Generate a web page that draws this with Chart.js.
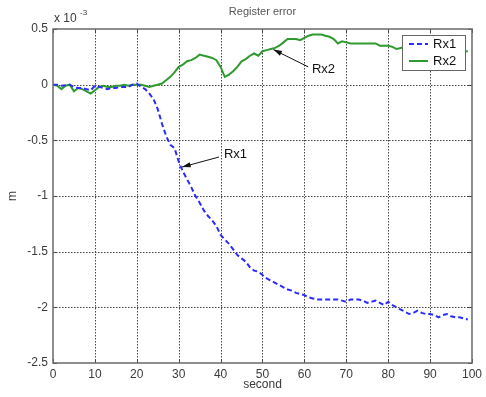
<!DOCTYPE html>
<html>
<head>
<meta charset="utf-8">
<script src="https://cdn.jsdelivr.net/npm/chart.js@4/dist/chart.umd.min.js"></script>
<style>
  html, body { margin: 0; padding: 0; background: #fff; }
  #chart { display: block; }
</style>
</head>
<body>
<canvas id="chart" width="486" height="397"></canvas>
<script>
// time in seconds, values in units of 1e-3 m
const seconds = [
  0, 1, 2, 3, 4, 5, 6, 7, 8, 9, 10, 11, 12, 13, 14, 15, 16, 17, 18, 19,
  20, 21, 22, 23, 24, 25, 26, 27, 28, 29, 30, 31, 32, 33, 34, 35, 36, 37, 38, 39,
  40, 41, 42, 43, 44, 45, 46, 47, 48, 49, 50, 51, 52, 53, 54, 55, 56, 57, 58, 59,
  60, 61, 62, 63, 64, 65, 66, 67, 68, 69, 70, 71, 72, 73, 74, 75, 76, 77, 78, 79,
  80, 81, 82, 83, 84, 85, 86, 87, 88, 89, 90, 91, 92, 93, 94, 95, 96, 97, 98, 99
];
const rx1 = [
  0, 0, -0.01, -0.005, 0, -0.02, -0.03, -0.03, -0.04, -0.05,
  -0.01, -0.02, -0.03, -0.04, -0.03, -0.03, -0.02, -0.02, -0.02, 0,
  0.01, -0.02, -0.04, -0.08, -0.13, -0.22, -0.35, -0.46, -0.54, -0.57,
  -0.69, -0.78, -0.85, -0.92, -1.0, -1.06, -1.13, -1.18, -1.22, -1.27,
  -1.35, -1.39, -1.43, -1.48, -1.53, -1.56, -1.59, -1.64, -1.67, -1.68,
  -1.71, -1.74, -1.76, -1.78, -1.80, -1.82, -1.84, -1.85, -1.87, -1.88,
  -1.89, -1.91, -1.92, -1.93, -1.93, -1.93, -1.93, -1.93, -1.93, -1.94,
  -1.95, -1.93, -1.93, -1.93, -1.94, -1.96, -1.95, -1.94, -1.96, -1.98,
  -1.95, -1.98, -2.0, -2.02, -2.04, -2.06, -2.05, -2.03, -2.05, -2.06,
  -2.06, -2.07, -2.09, -2.07, -2.06, -2.08, -2.09, -2.09, -2.10, -2.11
];
const rx2 = [
  0, -0.01, -0.04, -0.01, 0, -0.06, -0.03, -0.04, -0.06, -0.08,
  -0.05, -0.02, -0.01, -0.02, -0.02, -0.01, -0.01, 0, -0.01, 0,
  0, 0, -0.01, -0.02, -0.01, 0, 0.01, 0.04, 0.07, 0.11,
  0.16, 0.18, 0.21, 0.22, 0.24, 0.27, 0.26, 0.25, 0.24, 0.22,
  0.16, 0.07, 0.09, 0.12, 0.16, 0.21, 0.23, 0.26, 0.28, 0.26,
  0.30, 0.31, 0.32, 0.33, 0.35, 0.38, 0.41, 0.41, 0.41, 0.40,
  0.42, 0.44, 0.45, 0.45, 0.45, 0.44, 0.43, 0.41, 0.37, 0.39,
  0.38, 0.37, 0.37, 0.37, 0.37, 0.37, 0.37, 0.37, 0.35, 0.35,
  0.35, 0.34, 0.32, 0.33, 0.34, 0.34, 0.33, 0.34, 0.33, 0.33,
  0.32, 0.33, 0.32, 0.31, 0.32, 0.31, 0.30, 0.31, 0.30, 0.30
];
const seriesNames = ['Rx1', 'Rx2'];
const xTicks = [0, 10, 20, 30, 40, 50, 60, 70, 80, 90, 100];
const yTicks = [0.5, 0, -0.5, -1, -1.5, -2, -2.5];

// callouts: [label, tip x, tip y, tail x, tail y, text x, text y]
const callouts = [
  ['Rx1', 30.8, -0.74, 39.6, -0.65, 40.8, -0.63],
  ['Rx2', 52.6, 0.315, 60.9, 0.16, 61.8, 0.135]
];

const BLUE = '#2b2bff';
const GREEN = '#2f9a2f';
const TEXT = '#3a3a3a';
const FONT = '"Liberation Sans", Arial, sans-serif';

const toPoints = (ys) => seconds.map((s, i) => ({ x: s, y: ys[i] }));

const matlabLook = {
  id: 'matlabLook',
  beforeDatasetsDraw(chart) {
    const { ctx, chartArea: a, scales: { x, y } } = chart;
    ctx.save();
    // dotted grid
    ctx.strokeStyle = '#444';
    ctx.lineWidth = 1;
    ctx.setLineDash([1.5, 1.5]);
    ctx.beginPath();
    xTicks.slice(1, -1).forEach(v => {
      const px = Math.round(x.getPixelForValue(v)) + 0.5;
      ctx.moveTo(px, a.top); ctx.lineTo(px, a.bottom);
    });
    yTicks.slice(1, -1).forEach(v => {
      const py = Math.round(y.getPixelForValue(v)) + 0.5;
      ctx.moveTo(a.left, py); ctx.lineTo(a.right, py);
    });
    ctx.stroke();
    ctx.setLineDash([]);
    // solid inward ticks at both ends of every gridline
    ctx.beginPath();
    xTicks.forEach(v => {
      const px = Math.round(x.getPixelForValue(v)) + 0.5;
      ctx.moveTo(px, a.bottom); ctx.lineTo(px, a.bottom - 4);
      ctx.moveTo(px, a.top); ctx.lineTo(px, a.top + 4);
    });
    yTicks.forEach(v => {
      const py = Math.round(y.getPixelForValue(v)) + 0.5;
      ctx.moveTo(a.left, py); ctx.lineTo(a.left + 4, py);
      ctx.moveTo(a.right, py); ctx.lineTo(a.right - 4, py);
    });
    ctx.stroke();
    ctx.restore();
  },
  afterDraw(chart) {
    const { ctx, chartArea: a, scales: { x, y } } = chart;
    ctx.save();

    // axes box
    ctx.strokeStyle = '#6a6a6a';
    ctx.lineWidth = 1.5;
    ctx.strokeRect(a.left, a.top, a.right - a.left, a.bottom - a.top);

    // title, exponent, axis titles
    ctx.fillStyle = '#555';
    ctx.font = '11px ' + FONT;
    ctx.textAlign = 'center';
    ctx.textBaseline = 'middle';
    ctx.fillText('Register error', (a.left + a.right) / 2, 12);

    ctx.fillStyle = TEXT;
    ctx.textAlign = 'left';
    ctx.font = '12px ' + FONT;
    ctx.fillText('x 10', a.left + 1, 19);
    ctx.font = '8px ' + FONT;
    ctx.fillText('-3', a.left + 27, 13);

    ctx.font = '12px ' + FONT;
    ctx.textAlign = 'center';
    ctx.fillText('second', (a.left + a.right) / 2, 385);
    ctx.save();
    ctx.translate(13, (a.top + a.bottom) / 2);
    ctx.rotate(-Math.PI / 2);
    ctx.fillText('m', 0, 0);
    ctx.restore();

    // callouts with arrows
    ctx.strokeStyle = '#111';
    ctx.fillStyle = '#111';
    ctx.lineWidth = 1;
    callouts.forEach(([label, tx, ty, bx, by, lx, ly]) => {
      const x1 = x.getPixelForValue(tx), y1 = y.getPixelForValue(ty);
      const x0 = x.getPixelForValue(bx), y0 = y.getPixelForValue(by);
      const ang = Math.atan2(y1 - y0, x1 - x0);
      ctx.beginPath();
      ctx.moveTo(x0, y0); ctx.lineTo(x1, y1);
      ctx.stroke();
      ctx.beginPath();
      ctx.moveTo(x1, y1);
      ctx.lineTo(x1 - 9 * Math.cos(ang - 0.3), y1 - 9 * Math.sin(ang - 0.3));
      ctx.lineTo(x1 - 9 * Math.cos(ang + 0.3), y1 - 9 * Math.sin(ang + 0.3));
      ctx.closePath();
      ctx.fill();
      ctx.font = '13px ' + FONT;
      ctx.textAlign = 'left';
      ctx.textBaseline = 'middle';
      ctx.fillText(label, x.getPixelForValue(lx), y.getPixelForValue(ly));
    });

    // legend box in the upper right corner
    const lw = 63, lh = 35;
    const lx = a.right - 7 - lw, ly = a.top + 6;
    ctx.fillStyle = '#fff';
    ctx.fillRect(lx, ly, lw, lh);
    ctx.strokeStyle = '#666';
    ctx.lineWidth = 1;
    ctx.strokeRect(lx + 0.5, ly + 0.5, lw, lh);
    chart.data.datasets.forEach((ds, i) => {
      const ry = ly + 9 + i * 17;
      ctx.strokeStyle = ds.borderColor;
      ctx.lineWidth = 2;
      ctx.setLineDash(ds.borderDash || []);
      ctx.beginPath();
      ctx.moveTo(lx + 7, ry); ctx.lineTo(lx + 26, ry);
      ctx.stroke();
      ctx.setLineDash([]);
      ctx.fillStyle = '#111';
      ctx.font = '13px ' + FONT;
      ctx.textAlign = 'left';
      ctx.fillText(ds.label, lx + 31, ry);
    });

    ctx.restore();
  }
};

new Chart(document.getElementById('chart'), {
  type: 'line',
  data: {
    datasets: [
      {
        label: seriesNames[0],
        data: toPoints(rx1),
        borderColor: BLUE,
        borderWidth: 2,
        borderDash: [5, 3],
        pointRadius: 0,
        tension: 0
      },
      {
        label: seriesNames[1],
        data: toPoints(rx2),
        borderColor: GREEN,
        borderWidth: 2,
        pointRadius: 0,
        tension: 0
      }
    ]
  },
  options: {
    responsive: false,
    animation: false,
    layout: { padding: { top: 29, right: 11, left: 0, bottom: 0 } },
    plugins: {
      legend: { display: false },
      title: { display: false },
      tooltip: { enabled: false }
    },
    scales: {
      x: {
        type: 'linear',
        min: 0,
        max: 100,
        afterFit: (s) => { s.height = 34; },
        afterBuildTicks: (s) => { s.ticks = xTicks.map(v => ({ value: v })); },
        ticks: { color: TEXT, font: { family: FONT, size: 12 }, padding: 4, maxRotation: 0 },
        grid: { display: false, drawTicks: false },
        border: { display: false }
      },
      y: {
        min: -2.5,
        max: 0.5,
        afterFit: (s) => { s.width = 53; },
        afterBuildTicks: (s) => { s.ticks = yTicks.map(v => ({ value: v })); },
        ticks: {
          color: TEXT,
          font: { family: FONT, size: 12 },
          padding: 5,
          callback: (v) => String(v)
        },
        grid: { display: false, drawTicks: false },
        border: { display: false }
      }
    }
  },
  plugins: [matlabLook]
});
</script>
</body>
</html>
